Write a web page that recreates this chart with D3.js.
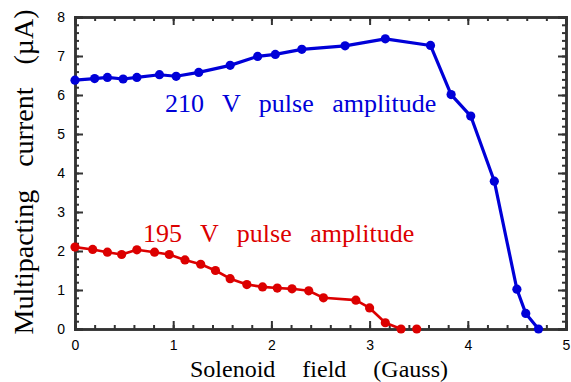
<!DOCTYPE html>
<html>
<head>
<meta charset="utf-8">
<script src="https://cdn.jsdelivr.net/npm/d3@7"></script>
<style>
  html, body { margin: 0; padding: 0; background: #fff; }
  svg { display: block; }
</style>
</head>
<body>
<div id="chart"></div>
<script>
// 210 V pulse amplitude
const blueX = [0, 0.2, 0.33, 0.49, 0.63, 0.86, 1.03, 1.26, 1.58, 1.86, 2.04, 2.31, 2.75, 3.16, 3.62, 3.83, 4.03, 4.27, 4.5, 4.59, 4.72];
const blueY = [6.38, 6.42, 6.45, 6.41, 6.45, 6.52, 6.48, 6.58, 6.76, 6.99, 7.04, 7.17, 7.26, 7.44, 7.27, 6.01, 5.46, 3.79, 1.02, 0.4, 0];

// 195 V pulse amplitude (joined points)
const redX = [0, 0.18, 0.33, 0.475, 0.63, 0.81, 0.96, 1.12, 1.28, 1.43, 1.58, 1.75, 1.91, 2.06, 2.21, 2.38, 2.53, 2.86, 3.0, 3.16, 3.32];
const redY = [2.1, 2.04, 1.97, 1.91, 2.03, 1.97, 1.91, 1.77, 1.66, 1.5, 1.29, 1.14, 1.08, 1.05, 1.03, 0.98, 0.8, 0.74, 0.54, 0.16, 0];
// 195 V point not joined to the line
const redLoneX = [3.48];
const redLoneY = [0];

const xTicks = [0, 1, 2, 3, 4, 5];
const yTicks = [0, 1, 2, 3, 4, 5, 6, 7, 8];

const width = 571, height = 382;
const margin = { left: 75, right: 5, top: 17, bottom: 53 };
const blue = "#0000d8", red = "#dc0000", axisColor = "#333";

const svg = d3.select("#chart").append("svg")
  .attr("width", width).attr("height", height);

const x = d3.scaleLinear().domain([0, 5]).range([margin.left, width - margin.right]);
const y = d3.scaleLinear().domain([0, 8]).range([height - margin.bottom, margin.top]);

const serif = "'Liberation Serif', 'Times New Roman', serif";
const sans = "'Liberation Sans', Arial, sans-serif";

// inward ticks on all four sides
const minorX = d3.range(0, 5.001, 0.2);
const minorY = d3.range(0, 8.001, 0.2);
function addAxis(axisFn, scale, pos, ticks, minor, labels) {
  const gMinor = svg.append("g").attr("transform", pos)
    .call(axisFn(scale).tickValues(minor).tickSize(-4).tickFormat(""));
  const gMajor = svg.append("g").attr("transform", pos)
    .call(axisFn(scale).tickValues(ticks).tickSize(-8).tickPadding(10)
      .tickFormat(labels ? d3.format("d") : ""));
  [gMinor, gMajor].forEach(g => {
    g.selectAll(".domain").attr("stroke", axisColor).attr("stroke-width", 2.5);
    g.selectAll(".tick line").attr("stroke", axisColor).attr("stroke-width", 2);
    g.selectAll("text").attr("font-family", sans).attr("font-size", 14).attr("fill", "#000");
  });
  return gMajor;
}
const gx = addAxis(d3.axisBottom, x, `translate(0,${y(0)})`, xTicks, minorX, true);
gx.selectAll("text").attr("dy", "0.8em");
addAxis(d3.axisTop, x, `translate(0,${y(8)})`, xTicks, minorX, false);
addAxis(d3.axisLeft, y, `translate(${x(0)},0)`, yTicks, minorY, true);
addAxis(d3.axisRight, y, `translate(${x(5)},0)`, yTicks, minorY, false);

// series
const line = d3.line().x(d => x(d[0])).y(d => y(d[1]));
function series(xs, ys, color, lw, joined) {
  const pts = xs.map((v, i) => [v, ys[i]]);
  if (joined) {
    svg.append("path").datum(pts).attr("d", line)
      .attr("fill", "none").attr("stroke", color).attr("stroke-width", lw)
      .attr("stroke-linejoin", "round");
  }
  svg.append("g").selectAll("circle").data(pts).join("circle")
    .attr("cx", d => x(d[0])).attr("cy", d => y(d[1])).attr("r", 4.6)
    .attr("fill", color);
}
series(blueX, blueY, blue, 3.2, true);
series(redX, redY, red, 2.6, true);
series(redLoneX, redLoneY, red, 2.6, false);

// in-plot labels
svg.append("text").attr("x", 165).attr("y", 112)
  .attr("font-family", serif).attr("font-size", 26).attr("word-spacing", 12)
  .attr("fill", blue).text("210 V pulse amplitude");
svg.append("text").attr("x", 143).attr("y", 242)
  .attr("font-family", serif).attr("font-size", 26).attr("word-spacing", 12)
  .attr("fill", red).text("195 V pulse amplitude");

// axis titles
svg.append("text").attr("x", 319).attr("y", 376.5)
  .attr("text-anchor", "middle").attr("font-family", serif).attr("font-size", 24)
  .attr("word-spacing", 21).text("Solenoid field (Gauss)");
svg.append("text")
  .attr("transform", "translate(33,172) rotate(-90)")
  .attr("text-anchor", "middle").attr("font-family", serif).attr("font-size", 28)
  .attr("word-spacing", 16).text("Multipacting current (\u00b5A)");
</script>
</body>
</html>
